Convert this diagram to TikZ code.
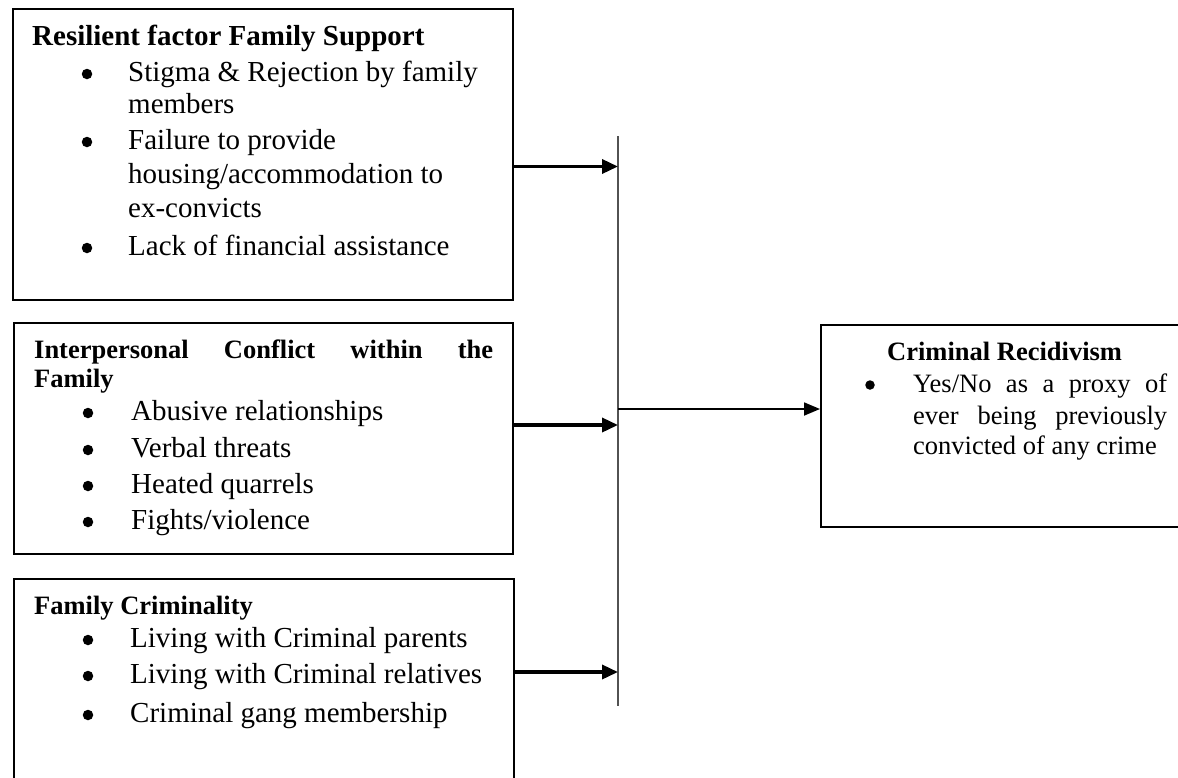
\documentclass[tikz,border=0pt]{standalone}
\usepackage{fontspec}
\setmainfont{Liberation Serif}
\usetikzlibrary{arrows.meta}
\begin{document}
\begin{tikzpicture}[x=1pt,y=-1pt,
  box/.style={draw=black,line width=1.6pt,inner sep=0pt,anchor=north west},
  txt/.style={anchor=base west,inner sep=0pt,font=\fontsize{29}{34}\selectfont},
  stxt/.style={anchor=base west,inner sep=0pt,font=\fontsize{26.5}{31}\selectfont},
  ttl/.style={anchor=base west,inner sep=0pt,font=\fontsize{29}{34}\selectfont\bfseries},
  sttl/.style={anchor=base west,inner sep=0pt,font=\fontsize{26.5}{31}\selectfont\bfseries},
  dot/.style={circle,fill=black,inner sep=0pt,minimum size=10.5pt},
  feed/.style={line width=3.5pt,-{Triangle[length=16pt,width=14pt]}},
  outarrow/.style={line width=1.8pt,-{Triangle[length=16pt,width=13pt]}},
  busline/.style={draw=black!68,line width=1.6pt}]
\useasboundingbox (0,0) rectangle (1178,777);
\clip (0,0) rectangle (1178,777);

% boxes
\node[box,minimum width=500pt,minimum height=291pt] (b1) at (12,8) {};
\node[box,minimum width=499pt,minimum height=231pt] (b2) at (13,322) {};
\node[box,minimum width=500pt,minimum height=230pt] (b3) at (13,578) {};
\node[box,minimum width=380pt,minimum height=202pt] (rb) at (820,324) {};

% box 1 text
\node[ttl] (t1) at (32,45.7) {Resilient factor Family Support};
\node[dot] (p1a) at (87,74) {};
\node[txt] (l1a) at (128,81) {Stigma \& Rejection by family};
\node[txt] (l1b) at (128,113) {members};
\node[dot] (p1b) at (87,142) {};
\node[txt] (l1c) at (128,149) {Failure to provide};
\node[txt] (l1d) at (128,183) {housing/accommodation to};
\node[txt] (l1e) at (128,217) {ex-convicts};
\node[dot] (p1c) at (87,248) {};
\node[txt] (l1f) at (128,255) {Lack of financial assistance};

% box 2 text
\node[sttl] (t2a) at (34,358) {\makebox[459pt][s]{Interpersonal Conflict within the}};
\node[sttl] (t2b) at (34,387) {Family};
\node[dot] (p2a) at (88,413) {};
\node[txt] (l2a) at (131,420) {Abusive relationships};
\node[dot] (p2b) at (88,450) {};
\node[txt] (l2b) at (131,457) {Verbal threats};
\node[dot] (p2c) at (88,486) {};
\node[txt] (l2c) at (131,493) {Heated quarrels};
\node[dot] (p2d) at (88,522) {};
\node[txt] (l2d) at (131,529) {Fights/violence};

% box 3 text
\node[sttl] (t3) at (34,614) {Family Criminality};
\node[dot] (p3a) at (88,640) {};
\node[txt] (l3a) at (130,647) {Living with Criminal parents};
\node[dot] (p3b) at (88,676) {};
\node[txt] (l3b) at (130,683) {Living with Criminal relatives};
\node[dot] (p3c) at (88,715) {};
\node[txt] (l3c) at (130,722) {Criminal gang membership};

% right box text
\node[sttl] (t4) at (887,360) {Criminal Recidivism};
\node[dot,minimum size=9.5pt] (p4a) at (870,385) {};
\node[stxt] (l4a) at (913,392) {\makebox[254pt][s]{Yes/No as a proxy of}};
\node[stxt] (l4b) at (913,424) {\makebox[254pt][s]{ever being previously}};
\node[stxt] (l4c) at (913,454) {convicted of any crime};

% bus line
\coordinate (vtop) at (618,136);
\coordinate (vbot) at (618,706);
\draw[busline] (vtop) -- (vbot);
\coordinate (j1) at (618,166.5);
\coordinate (j2) at (618,425);
\coordinate (j3) at (618,672);
\coordinate (jm) at (618,409);

\draw[feed] (b1.east |- j1) -- (j1);
\draw[feed] (b2.east |- j2) -- (j2);
\draw[feed] (b3.east |- j3) -- (j3);
\draw[outarrow] (jm) -- (rb.west |- jm);
\end{tikzpicture}
\end{document}
